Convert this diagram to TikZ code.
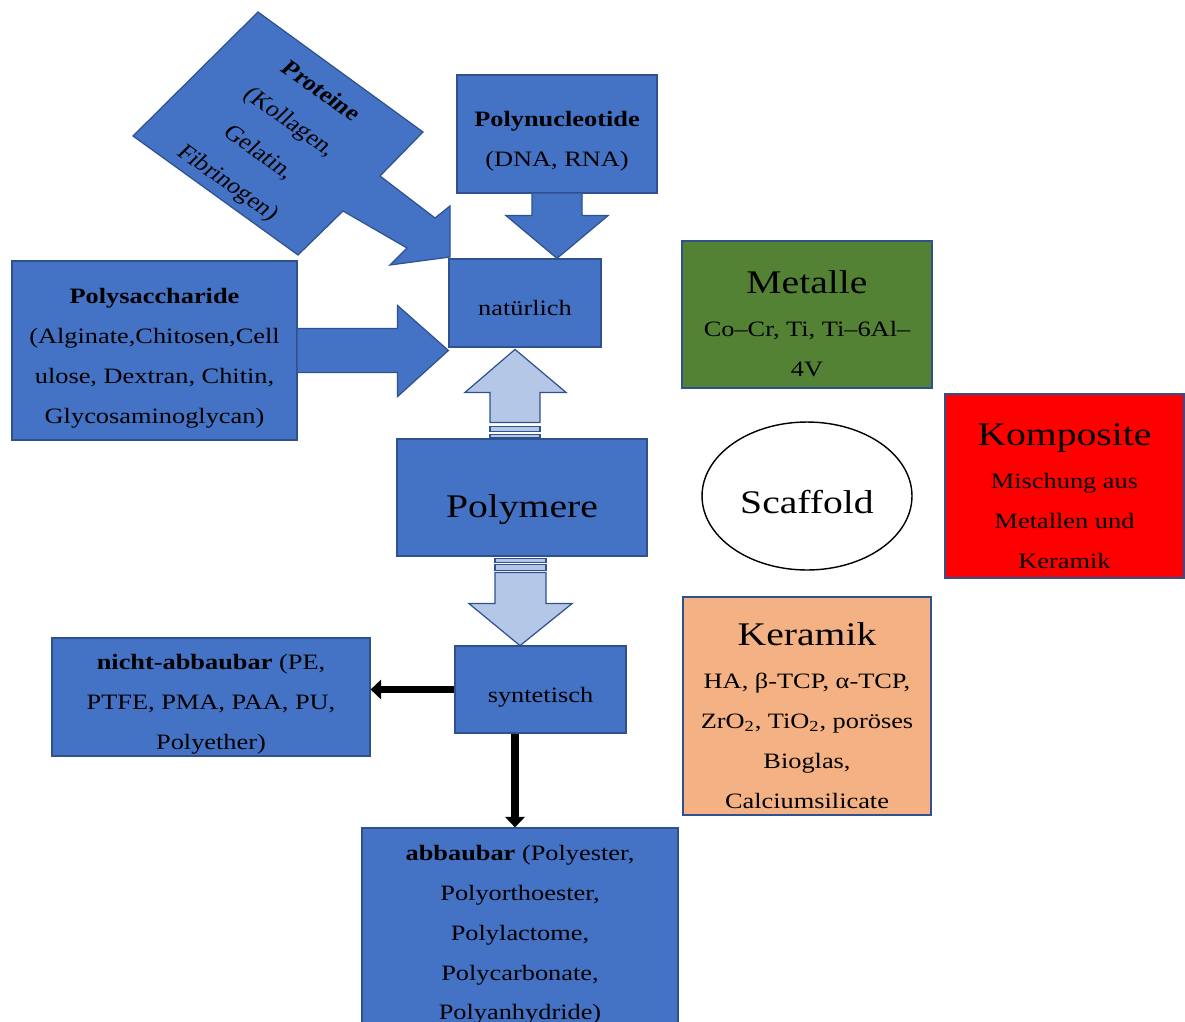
\documentclass[tikz,border=0pt]{standalone}
\usepackage{fontspec}
\setmainfont{Liberation Serif}[FakeStretch=1.2]
\newfontfamily\plainserif{Liberation Serif}
\usetikzlibrary{arrows.meta, positioning, calc, shapes.geometric}

\definecolor{boxblue}{HTML}{4472C4}
\definecolor{boxline}{HTML}{2F528F}
\definecolor{lightblue}{HTML}{B4C7E7}
\definecolor{metalgreen}{HTML}{548235}
\definecolor{ceramicorange}{HTML}{F4B183}

\tikzset{
  txt/.style={font=\fontsize{12.5}{22.7}\selectfont, align=center, inner sep=0pt},
  intxt/.style={txt, yshift=-4.3pt},
  box/.style={draw=boxline, line width=0.7pt, fill=boxblue, inner sep=0pt},
  bigarrow/.style={draw=boxline, line width=0.7pt, fill=boxblue},
  lightarrow/.style={draw=boxline, line width=0.7pt, fill=lightblue},
  blackarrow/.style={line width=4pt, -{Triangle[length=6pt,width=11pt]}}
}
\newcommand{\bigtxt}[1]{{\fontsize{18.8}{22.7}\selectfont #1}}

\begin{document}
\begin{tikzpicture}[x=0.02cm, y=-0.02cm]
    \useasboundingbox (0,0) rectangle (1185,1021);

    % Proteine (tilted box with arrow)
    \draw[bigarrow] (258,12) -- (423,132) -- (380,176) -- (435,218) -- (450,206)
        -- (450,257) -- (390,265) -- (407,248) -- (343,211) -- (298,255) -- (133,136) -- cycle;
    \begin{scope}[shift={(273.5,138)}]
        \node[txt, font=\plainserif\fontsize{12.5}{22.7}\selectfont,
              cm={0.915,-0.647,0.776,0.763,(0,0)}, transform shape] (prot) at (0,0)
            {\textbf{Proteine}\\(Kollagen,\\Gelatin,\\Fibrinogen)};
    \end{scope}

    % Natural polymers
    \node[box, minimum width=4cm, minimum height=2.36cm,
          label={[intxt]center:{\textbf{Polynucleotide}\\(DNA, RNA)}}] (nuc) at (557,134) {};
    \node[box, minimum width=3.04cm, minimum height=1.76cm,
          label={[intxt, yshift=1.5pt]center:{natürlich}}] (nat) at (525,303) {};
    \node[box, minimum width=5.7cm, minimum height=3.58cm,
          label={[intxt]center:{\textbf{Polysaccharide}\\(Alginate,Chitosen,Cell\\ulose, Dextran, Chitin,\\Glycosaminoglycan)}}] (sacch) at (154.5,350.5) {};

    % Polymere
    \node[box, minimum width=5cm, minimum height=2.34cm,
          label={[intxt, yshift=-2.5pt]center:{\bigtxt{Polymere}}}] (poly) at (522,497.5) {};

    % Synthetic polymers
    \node[box, minimum width=3.42cm, minimum height=1.74cm,
          label={[intxt]center:{syntetisch}}] (synt) at (540.5,689.5) {};
    \node[box, minimum width=6.36cm, minimum height=2.36cm,
          label={[intxt]center:{\textbf{nicht-abbaubar} (PE,\\PTFE, PMA, PAA, PU,\\Polyether)}}] (nicht) at (211,697) {};
    \node[box, minimum width=6.32cm, minimum height=4.2cm,
          label={[intxt, yshift=3.2pt]center:{\textbf{abbaubar} (Polyester,\\Polyorthoester,\\Polylactome,\\Polycarbonate,\\Polyanhydride)}}] (abb) at (520,933) {};

    % Other materials
    \node[box, fill=metalgreen, minimum width=5cm, minimum height=2.94cm,
          label={[intxt, yshift=-1pt]center:{\bigtxt{Metalle}\\[2pt]Co--Cr, Ti, Ti--6Al--\\4V}}] (metal) at (807,314.5) {};
    \node[ellipse, draw=black, line width=0.8pt, fill=white, minimum width=4.2cm, minimum height=2.96cm,
          label={[intxt, yshift=1pt]center:{\bigtxt{Scaffold}}}] (scaf) at (807,496) {};
    \node[box, fill=red, minimum width=4.78cm, minimum height=3.68cm,
          label={[intxt, yshift=-1.3pt]center:{\bigtxt{Komposite}\\[2pt]Mischung aus\\Metallen und\\Keramik}}] (komp) at (1064.5,486) {};
    \node[box, fill=ceramicorange, minimum width=4.96cm, minimum height=4.36cm,
          label={[intxt, yshift=-1pt]center:{\bigtxt{Keramik}\\[2pt]HA, β-TCP, α-TCP,\\ZrO\textsubscript{2}, TiO\textsubscript{2}, poröses\\Bioglas,\\Calciumsilicate}}] (ker) at (807,706) {};

    % Block arrows into natürlich
    \draw[bigarrow] ($(nuc.south)+(-25,0)$) -- ++(0,22) -- ++(-26,0) -- (nuc.south |- nat.north)
        -- ($(nuc.south)+(51,22)$) -- ++(-26,0) -- ++(0,-22);
    \draw[bigarrow] ($(sacch.east)+(0,-22)$) -- ++(100,0) -- ++(0,-23) -- (sacch.east -| nat.west)
        -- ($(sacch.east)+(100,46)$) -- ++(0,-24) -- ++(-100,0);

    % Striped arrows from Polymere
    \draw[lightarrow] ($(poly.north)+(-32,-16)$) -- ++(0,-30) -- ++(-25,0) -- ++(50,-43)
        -- ++(51,43) -- ++(-26,0) -- ++(0,30) -- cycle;
    \draw[lightarrow] ($(poly.north)+(-32,-12)$) rectangle ++(50,5);
    \draw[lightarrow] ($(poly.north)+(-32,-4)$) rectangle ++(50,3);
    \draw[lightarrow] ($(poly.south)+(-27,2)$) rectangle ++(51,4);
    \draw[lightarrow] ($(poly.south)+(-27,8)$) rectangle ++(51,6);
    \draw[lightarrow] ($(poly.south)+(-27,16)$) -- ++(0,31) -- ++(-26,0) -- ++(51,42)
        -- ++(52,-42) -- ++(-26,0) -- ++(0,-31) -- cycle;

    % syntetisch branches
    \draw[blackarrow] (synt.west) -- (synt.west -| nicht.east);
    \draw[blackarrow] ($(abb.north |- synt.south)+(-5,0)$) -- ($(abb.north)+(-5,0)$);
\end{tikzpicture}
\end{document}
